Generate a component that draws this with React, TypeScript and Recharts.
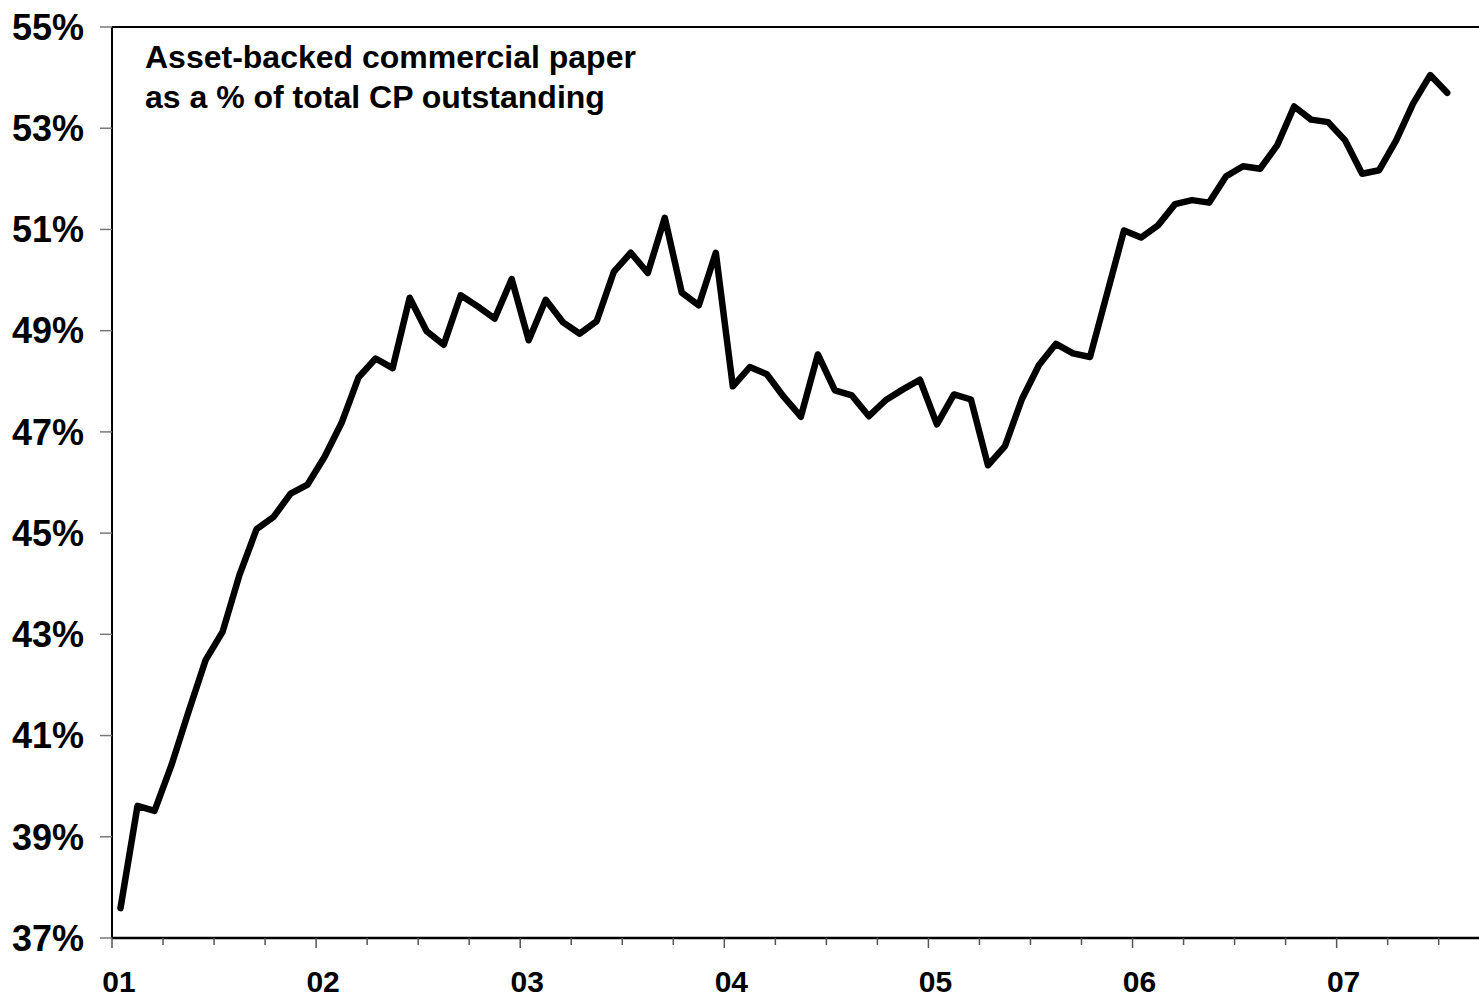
import { LineChart, Line, XAxis, YAxis, ReferenceLine } from 'recharts'

const FONT = "'Liberation Sans', Arial, Helvetica, sans-serif"

// monthly share of ABCP in total CP, Jan 2001 .. Jul 2007
const abcpShare = [
  37.59, 39.61, 39.51, 40.42, 41.47, 42.49, 43.05, 44.18, 45.08, 45.32, 45.78, 45.96,
  46.51, 47.18, 48.08, 48.45, 48.26, 49.65, 48.99, 48.72, 49.70, 49.48, 49.24, 50.02,
  48.81, 49.61, 49.17, 48.94, 49.19, 50.16, 50.54, 50.14, 51.23, 49.75, 49.50, 50.54,
  47.90, 48.28, 48.14, 47.69, 47.30, 48.53, 47.82, 47.72, 47.31, 47.63, 47.84, 48.03,
  47.15, 47.74, 47.64, 46.34, 46.72, 47.65, 48.32, 48.74, 48.55, 48.48, 49.73, 50.98,
  50.84, 51.08, 51.50, 51.58, 51.53, 52.05, 52.25, 52.20, 52.66, 53.43, 53.17, 53.12,
  52.76, 52.10, 52.17, 52.76, 53.49, 54.05, 53.70,
]

const yearLabels = ['01', '02', '03', '04', '05', '06', '07']
const quarterTicks = [0, 3, 6, 9, 12, 15, 18, 21, 24, 27, 30, 33, 36, 39, 42, 45, 48, 51, 54, 57, 60, 63, 66, 69, 72, 75, 78]
const pctTicks = [37, 39, 41, 43, 45, 47, 49, 51, 53, 55]
const titleLines = ['Asset-backed commercial paper', 'as a % of total CP outstanding']

// points sit in the middle of each month
const data = abcpShare.map((v, i) => ({ m: i + 0.5, v }))

function MonthTick(props: any) {
  const { x, y, payload } = props
  const isYear = payload.value % 12 === 0
  return (
    <g>
      <line x1={x} y1={y} x2={x} y2={y + (isYear ? 10 : 7)} stroke="#555" strokeWidth={1.5} />
      {isYear && (
        <text
          x={x + 7}
          y={y + 54}
          textAnchor="middle"
          fontFamily={FONT}
          fontWeight="bold"
          fontSize={30}
          fill="#000"
        >
          {yearLabels[payload.value / 12]}
        </text>
      )}
    </g>
  )
}

export default function App() {
  return (
    <div style={{ position: 'absolute', left: 0, top: 0, width: 1479, height: 1000, background: '#fff' }}>
      <LineChart width={1479} height={1000} data={data} margin={{ top: 27, right: 0, left: 0, bottom: 0 }}>
        <XAxis
          dataKey="m"
          type="number"
          domain={[0, 80.37]}
          ticks={quarterTicks}
          interval={0}
          height={62}
          tickSize={0}
          tickMargin={0}
          tickLine={false}
          axisLine={{ stroke: '#000', strokeWidth: 2.5 }}
          tick={<MonthTick />}
        />
        <YAxis
          type="number"
          domain={[37, 55]}
          ticks={pctTicks}
          interval={0}
          width={112}
          tickSize={12}
          tickMargin={16}
          tickFormatter={(v: number) => `${v}%`}
          axisLine={{ stroke: '#000', strokeWidth: 2 }}
          tickLine={{ stroke: '#777', strokeWidth: 1.5 }}
          tick={{ fontFamily: FONT, fontWeight: 'bold', fontSize: 36, fill: '#000' }}
        />
        <ReferenceLine y={55} stroke="#000" strokeWidth={2} />
        <Line
          type="linear"
          dataKey="v"
          stroke="#000"
          strokeWidth={6.5}
          strokeLinejoin="round"
          strokeLinecap="round"
          dot={false}
          isAnimationActive={false}
        />
      </LineChart>
      <svg width={1479} height={1000} style={{ position: 'absolute', left: 0, top: 0, pointerEvents: 'none' }}>
        {titleLines.map((t, i) => (
          <text key={t} x={145} y={68 + i * 40} fontFamily={FONT} fontWeight="bold" fontSize={32} fill="#000">
            {t}
          </text>
        ))}
      </svg>
    </div>
  )
}
